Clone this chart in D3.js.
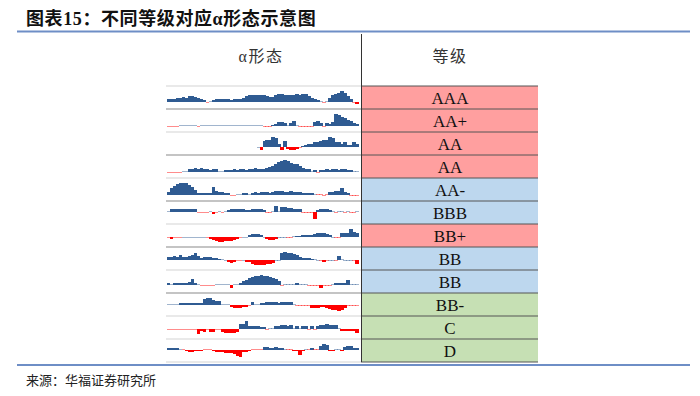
<!DOCTYPE html>
<html>
<head>
<meta charset="utf-8">
<script src="https://cdn.jsdelivr.net/npm/d3@7"></script>
<style>
  body { margin: 0; background: #fff; }
</style>
</head>
<body>
<svg id="chart"></svg>
<script>
// grades shown in the right column, top to bottom
const grades = ["AAA", "AA+", "AA", "AA", "AA-", "BBB", "BB+", "BB", "BB", "BB-", "C", "D"];
// colour group of each grade cell
const tiers = ["high", "high", "high", "high", "mid", "mid", "high", "mid", "mid", "low", "low", "low"];

// alpha series for each row (one sparkline per grade)
const alphaAAA = [3,3,3,4,4, 5,4,6,6,5, 4,3,2,-1,1, 2,3,3,3,3, 3,2,3,3,3, 4,6,7,7,7, 7,7,7,6,5, 5,7,8,8,7, 7,7,7,8,7, 8,8,6,4,3, 2,1,-1,1,4, 7,8,9,11,9, 6,3,-1,-2];
const alphaAAplus = [-0.3,-0.3,-0.3,-0.3,0.3, 0.3,0.3,0.3,0.3,0.3, -1,0.3,0.3,0.3,0.3, 0.3,0.3,0.3,0.3,0.3, 0.3,0.3,0.3,0.3,0.3, 0.3,0.3,0.3,0.3,0.3, 0.3,0.3,-0.3,-0.3,-0.3, 1.5,2,4,4,3, 1,3,5,1,-0.3, -0.3,-0.3,-0.3,-1,4, 5,3,-1,3,2, 4,12,11,9,8, 6,5,3,2];
const alphaAA1 = [null,null,null,null,null, null,null,null,null,null, null,null,null,null,null, null,null,null,null,null, null,null,null,null,null, null,null,null,null,null,
  0.3,-2,5,6,6, 8,7,3,-2,5, -1,-2,-2,-1,-0.3, 1,2,3,3,4, 4,5,6,6,8, 7,4,4,3,4, 2,2,4,3];
const alphaAA2 = [-0.3,-1,-1,-1,-0.3, 0.3,1,3,3,4, 3,4,3,3,2, 3,3,1,1,2, 2,2,3,2,3, 3,2,3,3,4, 3,3,3,4,5, 6,8,10,11,12, 11,9,8,8,6, 4,3,3,0.3,2, -1,2,2,3,2, 3,3,2,3,3, 2,2,1,0.3];
const alphaAAminus = [3,6,8,10,11, 11,11,9,7,5, 2,2,2,2,2, 7,4,3,3,2, 2,-1,-1,1,1, 2,2,1,2,3, 2,3,3,3,2, 3,4,4,4,3, 3,4,3,3,3, 2,2,2,2,1, -0.3,-0.3,-1,-0.3,3, 3,4,4,6,3, 2,-1,-1,-1];
const alphaBBB = [1,3,3,3,3, 3,3,3,3,3, -0.3,-0.3,-0.3,-0.3,1, -2,-0.3,0.3,-0.3,1, 2,3,4,4,3, 4,2,2,4,4, 3,4,2,-0.3,-0.3, 1,7,1,6,6, 5,5,4,4,3, -0.3,-0.3,-0.3,-1,-8, 2,3,3,3,2, 0.3,-0.3,0.3,0.3,-0.3, 0.3,-1,-0.3,1];
const alphaBBplus = [-0.3,-2,-0.3,-0.3,-0.3, 0.3,0.3,0.3,0.3,0.3, 0.3,0.3,0.3,-0.3,-2, -3,-4,-5,-5,-4, -4,-4,-3,-2,-0.3, 0.3,0.3,3,4,4, 4,3,0.3,-2,-3, -3,-2,0.3,0.3,0.3, -1,-1,1,2,2, 3,3,3,3,4, 5,5,5,4,3, 0.3,-0.3,-0.3,5,5, 5,9,6,5];
const alphaBB1 = [4,4,5,4,6, 4,4,5,6,8, 5,3,4,4,4, 3,3,2,1,0.3, -2,-3,-2,-1,-1, 0.3,-2,-2,-4,-5, -5,-5,-5,-4,-4, -3,0.3,0.3,8,9, 8,8,7,6,4, 3,3,3,2,1, 0.3,-1,-2,-1,0.3, 0.3,-0.3,5,1,0.3, 0.3,0.3,-0.3,-4];
const alphaBB2 = [2,1,2,2,2, 2,2,3,6,2, 1,-1,-1,-1,-1, -1,0.3,0.3,0.3,0.3, 1,-3,0.3,0.3,2, 4,5,7,8,9, 9,10,9,9,8, 7,6,4,-1,0.3, 0.3,0.3,0.3,2,0.3, 0.3,0.3,-1,-1,-1, -1,-3,-1,-1,-0.3, 0.3,2,2,2,2, 5,1,0.3,0.3];
const alphaBBminus = [0.3,0.3,1,1,2, 2,2,2,2,2, 2,2,6,7,7, 5,4,4,0.3,0.3, 0.3,-2,-3,-3,-3, -2,-2,-1,3,0.3, 0.3,2,2,3,3, 3,3,2,3,3, 3,3,0.3,-1,-1, -1,-1,-0.3,-3,-3, -3,-2,-2,-3,-4, -5,-5,-6,-5,-3, -1,-1,-1,-1];
const alphaC = [-1,-1,-1,-1,-1, -1,-1,-1,-1,-1, -5,-2,-3,-1,-3, -3,-1,-1,-3,-4, -4,-4,-4,-3,5, 5,8,3,3,3, 3,2,2,-1,0.3, 0.3,3,3,4,4, 3,4,0.3,3,0.3, 3,3,-1,3,-1, 3,4,4,5,4, 4,4,0.3,-2,-2, -2,-2,-2,-4];
const alphaD = [2,2,2,2,0.3, -1,-2,-3,-3,-2, -2,-2,-1,-0.3,-0.3, -2,-3,-3,-3,-4, -4,-4,-5,-7,-8, -3,-3,-2,-0.3,-0.3, -0.3,-1,3,3,2, 2,3,2,2,0.3, -0.3,-0.3,-2,-2,-6, -2,0.3,-1,2,-1, -1,4,6,5,-2, -2,0.3,0.3,-2,3, 4,4,2,2];

const alphaRows = [alphaAAA, alphaAAplus, alphaAA1, alphaAA2, alphaAAminus, alphaBBB,
                   alphaBBplus, alphaBB1, alphaBB2, alphaBBminus, alphaC, alphaD];

const width = 700, height = 396;
const cjk = "'Noto Sans CJK SC', sans-serif";

const svg = d3.select("#chart")
    .attr("width", width)
    .attr("height", height);

// title + frame lines
svg.append("text")
    .attr("x", 26)
    .attr("y", 25)
    .style("font-family", "'Liberation Serif', 'Noto Sans CJK SC', serif")
    .style("font-weight", "bold")
    .style("font-size", "18px")
    .style("letter-spacing", "0.6px")
    .style("fill", "#111")
    .text("图表15：不同等级对应α形态示意图");

svg.selectAll("line.frame")
  .data([31.5, 365])
  .join("line")
    .attr("class", "frame")
    .attr("x1", 17).attr("x2", 690)
    .attr("y1", d => d).attr("y2", d => d)
    .attr("stroke", "#6e8ec6")
    .attr("stroke-width", 2);

svg.append("text")
    .attr("x", 26)
    .attr("y", 385)
    .style("font-family", cjk)
    .style("font-size", "13px")
    .style("fill", "#222")
    .text("来源：华福证券研究所");

// scales
const row = d3.scaleBand()
  .domain(d3.range(grades.length))
  .range([86, 362]);

const x = d3.scaleBand()
  .domain(d3.range(alphaAAA.length))
  .range([167, 358]);

const tierColor = d3.scaleOrdinal()
  .domain(["high", "mid", "low"])
  .range(["#ff9f9f", "#bdd7ee", "#c6e0b4"]);

// column headers
svg.selectAll("text.head")
  .data([["α形态", 261], ["等级", 450]])
  .join("text")
    .attr("class", "head")
    .attr("x", d => d[1])
    .attr("y", 62)
    .attr("text-anchor", "middle")
    .style("font-family", "'Liberation Serif', 'Noto Sans CJK SC', serif")
    .style("font-size", "16px")
    .style("letter-spacing", "1.5px")
    .style("fill", "#333")
    .text(d => d[0]);

// grade cells
svg.selectAll("rect.cell")
  .data(grades)
  .join("rect")
    .attr("class", "cell")
    .attr("x", 362)
    .attr("y", (d, i) => row(i))
    .attr("width", 176)
    .attr("height", row.bandwidth())
    .attr("fill", (d, i) => tierColor(tiers[i]));

svg.selectAll("text.grade")
  .data(grades)
  .join("text")
    .attr("class", "grade")
    .attr("x", 450)
    .attr("y", (d, i) => row(i) + row.bandwidth() / 2)
    .attr("dy", "0.36em")
    .attr("text-anchor", "middle")
    .style("font-family", "'Liberation Serif', serif")
    .style("font-size", "17px")
    .style("fill", "#111")
    .text(d => d);

// row rules
const bounds = d3.range(grades.length + 1).map(i => i < grades.length ? row(i) : row.range()[1]);

svg.selectAll("line.ruleL")
  .data(bounds)
  .join("line")
    .attr("class", "ruleL")
    .attr("x1", 166).attr("x2", 361)
    .attr("y1", d => d).attr("y2", d => d)
    .attr("stroke", (d, i) => (i % 2 === 1 && i < 10) ? "#8a8a8a" : "#d4d4d4")
    .attr("stroke-width", 1.2);

svg.selectAll("line.ruleR")
  .data(bounds)
  .join("line")
    .attr("class", "ruleR")
    .attr("x1", 361).attr("x2", 538)
    .attr("y1", d => d).attr("y2", d => d)
    .attr("stroke", "#555")
    .attr("stroke-width", 1);

// divider
svg.append("line")
    .attr("x1", 361.5).attr("x2", 361.5)
    .attr("y1", 34).attr("y2", 362)
    .attr("stroke", "#333")
    .attr("stroke-width", 1);

// sparklines
alphaRows.forEach((vals, i) => {
  const top = row(i), bottom = row(i) + row.bandwidth();
  const y = d3.scaleLinear()
    .domain([Math.min(0, d3.min(vals)), Math.max(0, d3.max(vals))])
    .range([bottom - 5, top + 5]);
  const y0 = y(0);

  svg.append("g")
    .attr("shape-rendering", "crispEdges")
    .selectAll("rect")
    .data(vals.map((v, j) => ({v, j})).filter(d => d.v !== null))
    .join("rect")
      .attr("x", d => x(d.j))
      .attr("width", x.bandwidth() + 0.5)
      .attr("y", d => Math.min(y(d.v), y0) - (Math.abs(y(d.v) - y0) < 1 ? 0.5 : 0))
      .attr("height", d => Math.max(1, Math.abs(y(d.v) - y0)))
      .attr("fill", d => d.v >= 0 ? "#2f5b92" : "#ff0000")
      .attr("fill-opacity", d => Math.abs(y(d.v) - y0) < 1.2 ? 0.45 : 1);
});
</script>
</body>
</html>
